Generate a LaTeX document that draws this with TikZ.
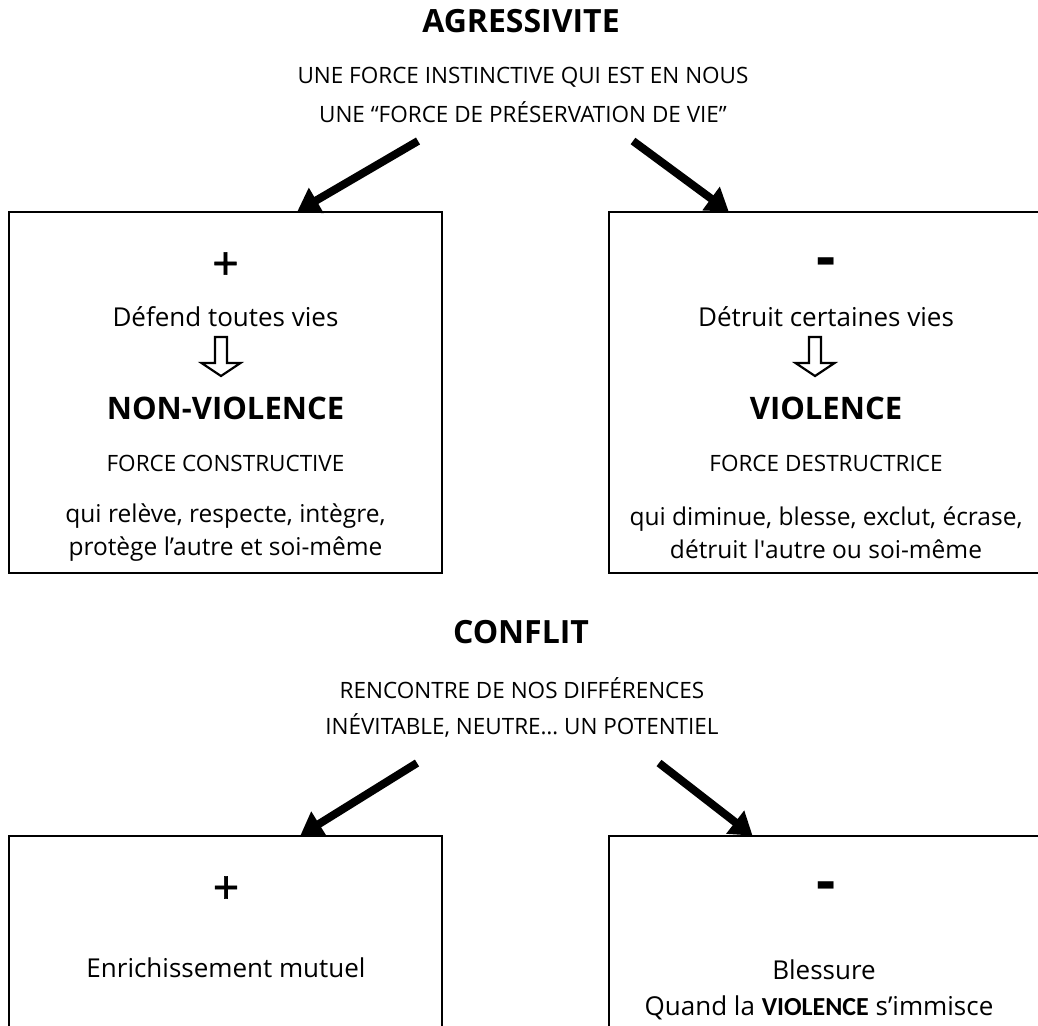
\documentclass[tikz,border=0pt]{standalone}
\usepackage{fontspec}
\setmainfont{Open Sans}
\newfontfamily\calibri{Carlito}
\newfontfamily\signefont[FakeBold=1.2]{Open Sans}
\usepackage{tikz}
\usetikzlibrary{arrows.meta,calc}
\def\width{1038}
\def\hauteur{1025}
\tikzset{
  boite/.style={draw, line width=2pt, inner sep=0pt},
  fleche/.style={line width=8pt, -{Triangle[length=22pt,width=28pt]}, shorten >=-1pt},
  titre/.style={font=\fontsize{32}{36}\selectfont\bfseries},
  soustitre/.style={font=\fontsize{22.5}{26}\selectfont},
  plus/.style={font=\signefont\fontsize{46}{50}\selectfont},
  moins/.style={font=\fontsize{60}{64}\selectfont\bfseries},
  corps/.style={font=\fontsize{26}{30}\selectfont},
  mot/.style={font=\fontsize{31}{35}\selectfont\bfseries},
  force/.style={font=\fontsize{22.5}{26}\selectfont},
  detail/.style={font=\fontsize{24.5}{33}\selectfont, align=center},
  creux/.style={line width=2.2pt, fill=white}
}

\begin{document}
\begin{tikzpicture}[x=1pt, y=-1pt]
\useasboundingbox[fill=white] (0,0) rectangle (\width,\hauteur);
%\draw[step=50pt, line width=0.2pt, black!30!white] (0,0) grid (\width,\hauteur);
    % partie haute
    \node[titre] (agr) at (521,21) {AGRESSIVITE};
    \node[soustitre] (agr1) at (523,77) {UNE FORCE INSTINCTIVE QUI EST EN NOUS};
    \node[soustitre] (agr2) at (523,112) {UNE “FORCE DE PRÉSERVATION DE VIE”};
    \node[boite, minimum width=433pt, minimum height=361pt] (plus1) at (225.5,392.5) {};
    \node[boite, minimum width=431pt, minimum height=361pt] (moins1) at (824.5,392.5) {};
    \coordinate (d1) at (418,141);
    \coordinate (d2) at (633,141);
    \draw[fleche] (d1) -- ($(plus1.north west)!0.667!(plus1.north east)$);
    \draw[fleche] (d2) -- ($(moins1.north west)!0.277!(moins1.north east)$);
    \node[plus] (p1) at (225.5,266) {+};
    \node[corps] (p2) at (225.5,317) {Défend toutes vies};
    \node[mot] (p3) at (225.5,408) {NON-VIOLENCE};
    \node[force] (p4) at (225.5,463) {FORCE CONSTRUCTIVE};
    \node[detail] (p5) at (225.5,533) {qui relève, respecte, intègre,\\protège l’autre et soi-même};
    \node[moins] (m1) at (826,268) {-};
    \node[corps] (m2) at (826,317) {Détruit certaines vies};
    \node[mot] (m3) at (826,408) {VIOLENCE};
    \node[force] (m4) at (826,463) {FORCE DESTRUCTRICE};
    \node[detail] (m5) at (826,533) {qui diminue, blesse, exclut, écrase,\\détruit l\textquotesingle autre ou soi-même};
    \foreach \xc in {221,815}
        \draw[creux] (\xc-6,337) -- (\xc+6,337) -- (\xc+6,363) -- (\xc+19.5,363)
            -- (\xc,376) -- (\xc-19.5,363) -- (\xc-6,363) -- cycle;
    % partie basse
    \node[titre] (con) at (521,632) {CONFLIT};
    \node[soustitre] (con1) at (522,688) {RENCONTRE DE NOS DIFFÉRENCES};
    \node[soustitre] (con2) at (522,725) {INÉVITABLE, NEUTRE… UN POTENTIEL};
    \node[boite, minimum width=433pt, minimum height=200pt] (plus2) at (225.5,936) {};
    \node[boite, minimum width=431pt, minimum height=200pt] (moins2) at (824.5,936) {};
    \coordinate (d3) at (417,763);
    \coordinate (d4) at (659,763);
    \draw[fleche] (d3) -- ($(plus2.north west)!0.674!(plus2.north east)$);
    \draw[fleche] (d4) -- ($(moins2.north west)!0.332!(moins2.north east)$);
    \node[plus] (p6) at (226,890) {+};
    \node[corps] (p7) at (226,968) {Enrichissement mutuel};
    \node[moins] (m6) at (826,892) {-};
    \node[corps] (m7) at (824,970) {Blessure};
    \node[corps] (m8) at (819,1008) {Quand la {\calibri\bfseries VIOLENCE} s’immisce};
\end{tikzpicture}
\end{document}
